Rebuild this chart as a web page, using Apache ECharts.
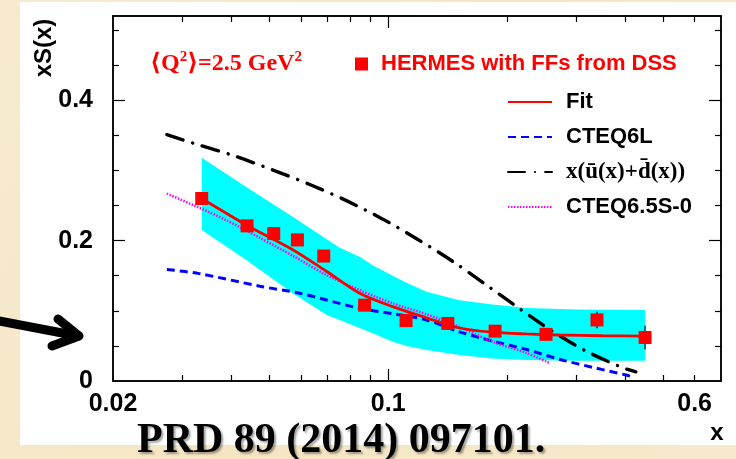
<!DOCTYPE html>
<html><head><meta charset="utf-8">
<script src="https://cdn.jsdelivr.net/npm/echarts@6/dist/echarts.min.js"></script>
<style>html,body{margin:0;padding:0;background:#F6E8C9}#c{width:736px;height:459px}</style>
</head><body><div id="c"></div>
<script>
// ---- tick values / labels ----
const xTickLabels = [0.02, 0.1, 0.6];
const xMajorTicks = [0.1];
const xMinorTicks = [0.03, 0.04, 0.05, 0.06, 0.07, 0.08, 0.09, 0.2, 0.3, 0.4, 0.5, 0.6];
const yTickLabels = [0, 0.2, 0.4];
const yMajorTicks = [0.2, 0.4];
const yMinorTicks = [0.05, 0.1, 0.15, 0.25, 0.3, 0.35, 0.45, 0.5];

// ---- HERMES points ----
const hermesName = 'HERMES with FFs from DSS';
const hermesX = [0.0336, 0.0438, 0.0512, 0.0588, 0.0686, 0.0871, 0.111, 0.1417, 0.1868, 0.2516, 0.339, 0.449];
const hermesY = [0.260, 0.221, 0.210, 0.201, 0.178, 0.108, 0.086, 0.082, 0.071, 0.0665, 0.087, 0.062];
const hermesErr = [0.006, 0.005, 0.005, 0.005, 0.005, 0.005, 0.005, 0.005, 0.005, 0.006, 0.012, 0.017];

// ---- Fit ----
const fitX = [0.0336, 0.0437, 0.0572, 0.0698, 0.0846, 0.1026, 0.1251, 0.1517, 0.1839, 0.2242, 0.272, 0.35, 0.449];
const fitY = [0.260, 0.222, 0.187, 0.156, 0.125, 0.106, 0.090, 0.0755, 0.0695, 0.067, 0.0655, 0.0645, 0.064];

// ---- CTEQ6L ----
const cteq6lX = [0.0274, 0.0331, 0.0472, 0.0596, 0.0846, 0.1026, 0.1251, 0.1517, 0.1839, 0.2242, 0.272, 0.33, 0.402, 0.417];
const cteq6lY = [0.159, 0.153, 0.135, 0.125, 0.1035, 0.096, 0.087, 0.070, 0.057, 0.045, 0.031, 0.0195, 0.0085, 0.006];

// ---- x(ubar+dbar) ----
const seaName = 'x(\u016B(x)+d\u0304(x))';
const seaX = [0.0274, 0.0323, 0.0405, 0.0507, 0.0632, 0.0783, 0.0969, 0.1189, 0.1453, 0.1762, 0.2131, 0.2599, 0.3178, 0.3935, 0.4255];
const seaY = [0.351, 0.338, 0.321, 0.301, 0.280, 0.257, 0.2306, 0.2017, 0.171, 0.138, 0.105, 0.0716, 0.0427, 0.019, 0.013];

// ---- CTEQ6.5S-0 ----
const cteq65X = [0.0274, 0.0320, 0.0388, 0.0472, 0.0574, 0.0697, 0.0846, 0.1026, 0.1251, 0.1517, 0.1839, 0.2242, 0.2564];
const cteq65Y = [0.267, 0.2505, 0.229, 0.204, 0.178, 0.151, 0.1295, 0.1106, 0.095, 0.077, 0.056, 0.040, 0.026];

// ---- uncertainty band ----
const bandX    = [0.0336, 0.0437, 0.0572, 0.0698, 0.0753, 0.0846, 0.0913, 0.1026, 0.1113, 0.1251, 0.1517, 0.1839, 0.2242, 0.30, 0.449];
const bandLow  = [0.215, 0.172, 0.125, 0.094, 0.087, 0.0754, 0.068, 0.056, 0.050, 0.044, 0.037, 0.032, 0.030, 0.029, 0.029];
const bandHigh = [0.318, 0.276, 0.234, 0.202, 0.190, 0.177, 0.165, 0.150, 0.140, 0.127, 0.115, 0.109, 0.104, 0.102, 0.101];

const SANS = "'Liberation Sans', Arial, Helvetica, sans-serif";
const SERIF = "'Liberation Serif', 'Times New Roman', 'DejaVu Serif', serif";
const fmt = v => String(parseFloat(Number(v).toPrecision(6)));
const zip = (xs, ys) => xs.map((x, i) => [x, ys[i]]);

function xAxisDef(pos, ticks, len, labels) {
  return {
    type: 'log', logBase: 10, min: 0.02, max: 0.7, position: pos,
    axisLine: { show: true, onZero: false, lineStyle: { color: '#000', width: 1.5 } },
    splitLine: { show: false }, minorTick: { show: false },
    axisTick: { show: true, inside: true, length: len, customValues: ticks, lineStyle: { color: '#000', width: 1.2 } },
    axisLabel: labels ? { show: true, customValues: labels, margin: 11, fontSize: 25, fontWeight: 'bold', fontFamily: SANS, color: '#000', formatter: fmt }
                      : { show: false }
  };
}
function yAxisDef(pos, ticks, len, labels) {
  return {
    type: 'value', min: 0, max: 0.52, position: pos,
    axisLine: { show: true, onZero: false, lineStyle: { color: '#000', width: 1.5 } },
    splitLine: { show: false },
    axisTick: { show: true, inside: true, length: len, customValues: ticks, lineStyle: { color: '#000', width: 1.2 } },
    axisLabel: labels ? { show: true, customValues: labels, margin: 20, fontSize: 25, fontWeight: 'bold', fontFamily: SANS, color: '#000', formatter: fmt }
                      : { show: false }
  };
}

const bandData = bandX.map((x, i) => [x, bandLow[i], bandHigh[i]]);
const errData = hermesX.map((x, i) => [x, hermesY[i] - hermesErr[i], hermesY[i] + hermesErr[i]]);

const option = {
  animation: false,
  backgroundColor: { type: 'linear', x: 0, y: 0, x2: 1, y2: 1,
    colorStops: [{ offset: 0, color: '#F7EBCF' }, { offset: 0.5, color: '#F5E5C3' }, { offset: 1, color: '#F7E9CB' }] },
  grid: { left: 113, top: 16, right: 15, bottom: 78 },
  xAxis: [
    xAxisDef('bottom', xMajorTicks, 12, xTickLabels),
    xAxisDef('bottom', xMinorTicks, 6, null),
    xAxisDef('top', xMajorTicks, 12, null),
    xAxisDef('top', xMinorTicks, 6, null)
  ],
  yAxis: [
    yAxisDef('left', yMajorTicks, 12, yTickLabels),
    yAxisDef('left', yMinorTicks, 6, null),
    yAxisDef('right', yMajorTicks, 12, null),
    yAxisDef('right', yMinorTicks, 6, null)
  ],
  legend: [
    {
      data: [hermesName], left: 355, top: 53, padding: 0, icon: 'rect', itemWidth: 13, itemHeight: 13,
      itemStyle: { opacity: 1 },
      textStyle: { color: '#FF0000', fontSize: 22, fontWeight: 'bold', fontFamily: SANS, padding: [0, 0, 0, 8] }
    },
    {
      data: ['Fit', 'CTEQ6L', seaName, 'CTEQ6.5S-0'], orient: 'vertical', left: 507, top: 90, padding: 0,
      itemWidth: 44, itemHeight: 14, itemGap: 11,
      itemStyle: { opacity: 0 },
      formatter: n => n === seaName ? '{s|' + n + '}' : n,
      textStyle: { color: '#000', fontSize: 22, fontWeight: 'bold', fontFamily: SANS, lineHeight: 24, padding: [0, 0, 0, 9],
        rich: { s: { fontFamily: SERIF, fontWeight: 'bold', fontSize: 23, color: '#000', lineHeight: 24 } } }
    }
  ],
  series: [
    {
      type: 'custom', name: 'band', z: 1, silent: true,
      data: bandData, encode: { x: 0, y: [1, 2] },
      renderItem: (params, api) => {
        if (params.dataIndex !== 0) return null;
        const up = bandX.map((x, i) => api.coord([x, bandHigh[i]]));
        const lo = bandX.map((x, i) => api.coord([x, bandLow[i]])).reverse();
        return { type: 'polygon', shape: { points: up.concat(lo) }, style: { fill: '#00FFFF' } };
      }
    },
    { type: 'line', name: 'CTEQ6L', z: 3, data: zip(cteq6lX, cteq6lY), symbol: 'none', showSymbol: false, smooth: 0.3,
      lineStyle: { color: '#0000FF', width: 3, type: [8, 5] }, itemStyle: { color: '#0000FF' } },
    { type: 'line', name: 'CTEQ6.5S-0', z: 3, data: zip(cteq65X, cteq65Y), symbol: 'none', showSymbol: false, smooth: 0.3,
      lineStyle: { color: '#FF00FF', width: 2.5, type: [1.5, 1.5] }, itemStyle: { color: '#FF00FF' } },
    { type: 'line', name: seaName, z: 3, data: zip(seaX, seaY), symbol: 'none', showSymbol: false, smooth: 0.3,
      lineStyle: { color: '#000', width: 3.4, type: [17, 10, 0.1, 10], cap: 'round' }, itemStyle: { color: '#000' } },
    { type: 'line', name: 'Fit', z: 4, data: zip(fitX, fitY), symbol: 'none', showSymbol: false, smooth: 0.3,
      lineStyle: { color: '#FF0000', width: 2.8 }, itemStyle: { color: '#FF0000' } },
    {
      type: 'custom', name: 'err', z: 5, silent: true,
      data: errData, encode: { x: 0, y: [1, 2] },
      renderItem: (params, api) => {
        const a = api.coord([api.value(0), api.value(1)]);
        const b = api.coord([api.value(0), api.value(2)]);
        return { type: 'line', shape: { x1: a[0], y1: a[1], x2: b[0], y2: b[1] }, style: { stroke: '#000', lineWidth: 1.2 } };
      }
    },
    { type: 'scatter', name: hermesName, z: 6, data: zip(hermesX, hermesY), symbol: 'rect', symbolSize: 13,
      itemStyle: { color: '#FF0000', opacity: 1 } }
  ],
  graphic: [
    { type: 'rect', z: -10, shape: { x: 20, y: 2, width: 716, height: 443 }, style: { fill: '#FFFFFF' } },
    { type: 'text', z: 10, x: 150, y: 64,
      style: { text: '{a|\u27E8Q}{s|2}{a|\u27E9=2.5 GeV}{s|2}', verticalAlign: 'middle', align: 'left', fill: '#FF0000',
        rich: { a: { fontFamily: SERIF, fontWeight: 'bold', fontSize: 24, fill: '#FF0000', color: '#FF0000' },
                s: { fontFamily: SERIF, fontWeight: 'bold', fontSize: 15, fill: '#FF0000', color: '#FF0000', verticalAlign: 'bottom', padding: [0, 0, 14, 0] } } } },
    { type: 'text', z: 10, x: 44, y: 48, rotation: Math.PI / 2,
      style: { text: 'xS(x)', font: 'bold 24px ' + SANS, fill: '#000', align: 'center', verticalAlign: 'middle' } },
    { type: 'text', z: 10, x: 717, y: 433,
      style: { text: 'x', font: 'bold 24px ' + SANS, fill: '#000', align: 'center', verticalAlign: 'middle' } },
    { type: 'polyline', z: 20, shape: { points: [[-6, 320], [78, 336]] },
      style: { stroke: '#000', lineWidth: 9, lineCap: 'round', fill: null } },
    { type: 'polyline', z: 20, shape: { points: [[58, 319], [79, 336], [52, 346]] },
      style: { stroke: '#000', lineWidth: 9, lineCap: 'round', lineJoin: 'round', fill: null } },
    { type: 'text', z: 20, x: 137, y: 441,
      style: { text: 'PRD 89 (2014) 097101.', font: 'bold 42px ' + SERIF, fill: '#000', align: 'left', verticalAlign: 'middle',
        textShadowColor: 'rgba(0,0,0,0.35)', textShadowOffsetX: 2, textShadowOffsetY: 2, textShadowBlur: 2 } }
  ]
};
const chart = echarts.init(document.getElementById('c'), null, { renderer: 'canvas' });
chart.setOption(option);
</script></body></html>
